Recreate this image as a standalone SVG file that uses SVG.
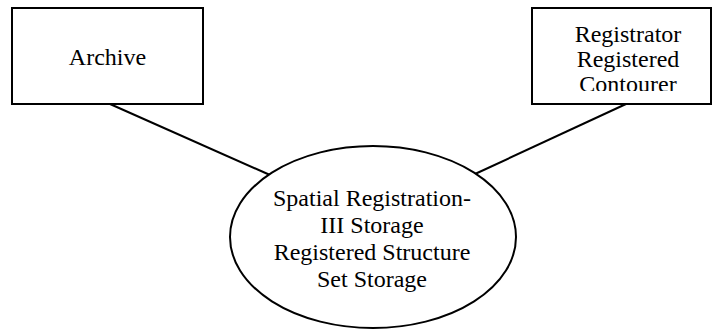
<svg xmlns="http://www.w3.org/2000/svg" width="712" height="330" viewBox="0 0 712 330">
<style>
.box{fill:#fff;stroke:#000;stroke-width:2}
.t{font-family:"Liberation Serif","Times New Roman",serif;font-size:24px;fill:#000;text-anchor:middle}
.c{stroke:#000;stroke-width:2;fill:none}
</style>
<defs>
<clipPath id="clipR"><rect x="532" y="8" width="180" height="83"/></clipPath>
</defs>
<rect width="712" height="330" fill="#fff"/>
<g id="connectors">
<line class="c" x1="110" y1="104" x2="270" y2="175"/>
<line class="c" x1="626" y1="104" x2="475" y2="174"/>
</g>
<g id="archive">
<rect class="box" x="12" y="8" width="191" height="96"/>
<text class="t" x="107.5" y="65">Archive</text>
</g>
<g id="registrator">
<rect class="box" x="532" y="8" width="179" height="96"/>
<g clip-path="url(#clipR)">
<text class="t" x="628" y="42">Registrator</text>
<text class="t" x="628" y="67">Registered</text>
<text class="t" x="628" y="92">Contourer</text>
</g>
</g>
<g id="storage">
<ellipse class="box" cx="373" cy="237" rx="143" ry="91"/>
<text class="t" x="372" y="206">Spatial Registration-</text>
<text class="t" x="372" y="233">III Storage</text>
<text class="t" x="372" y="260">Registered Structure</text>
<text class="t" x="372" y="287">Set Storage</text>
</g>
</svg>
